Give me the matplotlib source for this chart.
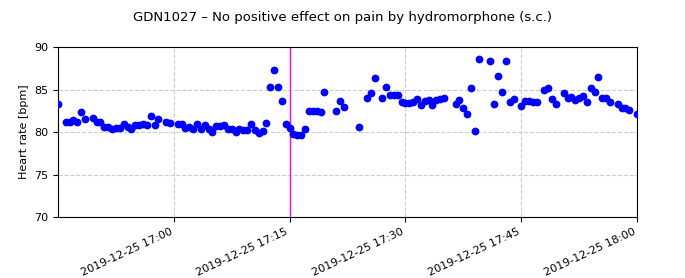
import matplotlib
matplotlib.use("Agg")
import matplotlib.pyplot as plt
import matplotlib.dates as mdates
import pandas as pd

start = "2019-12-25 16:45:00"
# minutes after 16:45
minutes = [0.0, 1.0, 1.5, 2.0, 2.5, 3.0, 3.5, 4.5, 5.0, 5.5, 6.0, 6.5, 7.0, 7.5, 8.0, 8.5,
           9.0, 9.5, 10.0, 10.5, 11.0, 11.5, 12.0, 12.5, 13.0, 14.0, 14.5, 15.5, 16.0, 16.5,
           17.0, 17.5, 18.0, 18.5, 19.0, 19.5, 20.0, 20.5, 21.0, 21.5, 22.0, 22.5, 23.0, 23.5,
           24.0, 24.5, 25.0, 25.5, 26.0, 26.5, 27.0, 27.5, 28.0, 28.5, 29.0, 29.5, 30.0, 30.5,
           31.0, 31.5, 32.0, 32.5, 33.0, 33.5, 34.0, 34.5, 36.0, 36.5, 37.0, 39.0, 40.0, 40.5,
           41.0, 42.0, 42.5, 43.0, 43.5, 44.0, 44.5, 45.0, 45.5, 46.0, 46.5, 47.0, 47.5, 48.0,
           48.5, 49.0, 49.5, 50.0, 51.5, 52.0, 52.5, 53.0, 53.5, 54.0, 54.5, 56.0, 56.5, 57.0,
           57.5, 58.0, 58.5, 59.0, 60.0, 60.5, 61.0, 61.5, 62.0, 63.0, 63.5, 64.0, 64.5, 65.5,
           66.0, 66.5, 67.0, 67.5, 68.0, 68.5, 69.0, 69.5, 70.0, 70.5, 71.0, 71.5, 72.5, 73.0,
           73.5, 74.0, 75.0]
heart_rate = [83.3, 81.2, 81.2, 81.4, 81.2, 82.3, 81.5, 81.7, 81.2, 81.2, 80.55, 80.55, 80.4, 80.5, 80.45, 80.9,
              80.55, 80.3, 80.8, 80.8, 80.9, 80.8, 81.9, 80.8, 81.5, 81.2, 81.1, 80.9, 80.9, 80.45,
              80.55, 80.3, 81.0, 80.3, 80.8, 80.3, 80.0, 80.7, 80.7, 80.8, 80.3, 80.3, 80.0, 80.4,
              80.2, 80.2, 81.0, 80.25, 79.9, 80.1, 81.1, 85.3, 87.3, 85.25, 83.6, 80.9, 80.45, 79.8,
              79.6, 79.7, 80.4, 82.5, 82.5, 82.5, 82.3, 84.7, 82.5, 83.7, 83.0, 80.6, 84.0, 84.55,
              86.4, 84.0, 85.3, 84.3, 84.3, 84.3, 83.5, 83.4, 83.45, 83.5, 83.85, 83.2, 83.6, 83.8,
              83.2, 83.75, 83.9, 83.95, 83.3, 83.8, 82.8, 82.1, 85.2, 80.1, 88.55, 88.4, 83.25, 86.55,
              84.7, 88.3, 83.5, 83.85, 83.1, 83.6, 83.7, 83.5, 83.5, 84.9, 85.2, 83.9, 83.25, 84.55,
              84.0, 84.1, 83.8, 84.0, 84.2, 83.5, 85.2, 84.7, 86.5, 83.95, 84.05, 83.5, 83.3, 82.8,
              82.85, 82.55, 82.1]
event_time = "2019-12-25 17:15:00"
x_start = "2019-12-25 16:45:00"
x_end = "2019-12-25 18:00:00"
tick_times = ["2019-12-25 17:00", "2019-12-25 17:15", "2019-12-25 17:30",
              "2019-12-25 17:45", "2019-12-25 18:00"]
title = "GDN1027 \u2013 No positive effect on pain by hydromorphone (s.c.)"

times = pd.Timestamp(start) + pd.to_timedelta(minutes, unit="m")

fig = plt.figure(figsize=(6.85, 2.78), dpi=100)
ax = fig.add_axes([0.0847, 0.219, 0.8453, 0.612])
ax.plot(times, heart_rate, "o", color="blue", markersize=4.6, zorder=3)
ax.axvline(pd.Timestamp(event_time), color="#ff00ff", lw=1.0, zorder=2)
ax.set_xlim(pd.Timestamp(x_start), pd.Timestamp(x_end))
ax.set_ylim(70, 90)
ax.set_yticks([70, 75, 80, 85, 90])
ax.set_xticks([pd.Timestamp(t) for t in tick_times])
ax.xaxis.set_major_formatter(mdates.DateFormatter("%Y-%m-%d %H:%M"))
ax.grid(True, linestyle="--", color="#cccccc", linewidth=0.8)
ax.set_axisbelow(True)
ax.set_ylabel("Heart rate [bpm]", fontsize=8)
ax.tick_params(labelsize=8)
for lbl in ax.get_xticklabels():
    lbl.set_rotation(25)
    lbl.set_ha("right")
fig.suptitle(title, fontsize=9.5, y=0.96)
fig.savefig("out.png", dpi=100)
